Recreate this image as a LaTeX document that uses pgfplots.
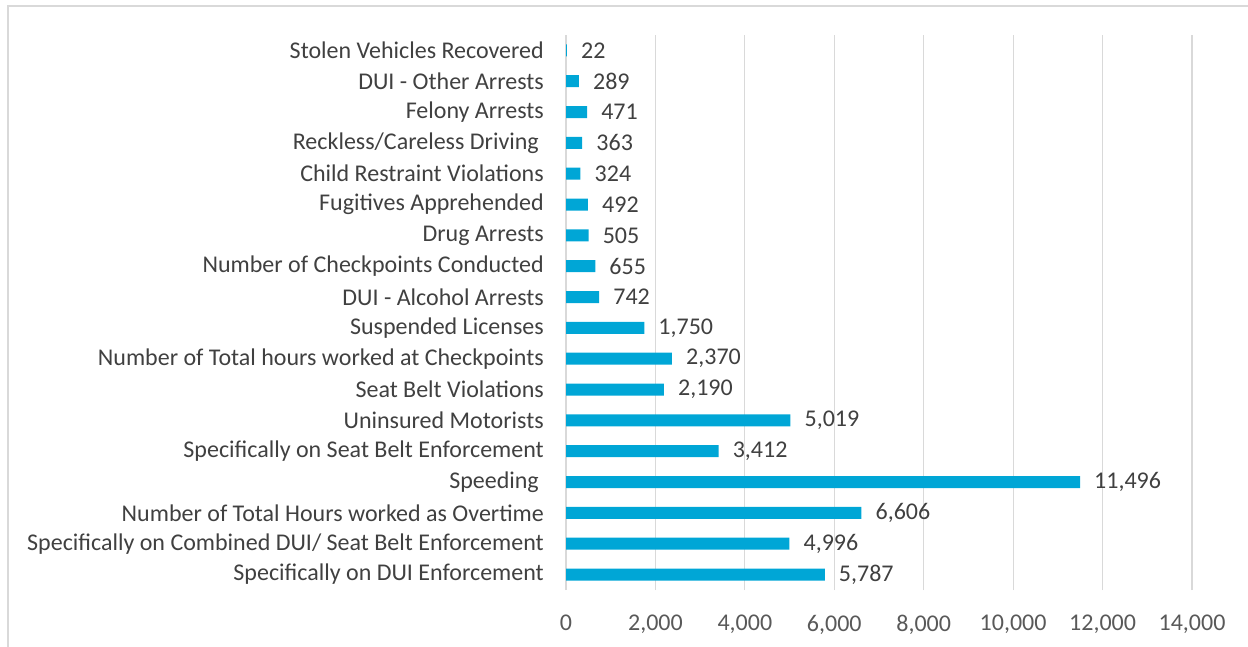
\documentclass[border=0pt]{standalone}
\usepackage{pgfplots}
\pgfplotsset{compat=1.18}
\usepackage{fontspec}
\setmainfont{Carlito}
\definecolor{barblue}{RGB}{0,166,214}
\definecolor{gridgray}{RGB}{217,217,217}
\definecolor{labgray}{RGB}{64,64,64}
\definecolor{tickgray}{RGB}{89,89,89}
\begin{document}
\fontsize{24bp}{28bp}\selectfont
\begin{tikzpicture}
\useasboundingbox (0bp,0bp) rectangle (1248bp,647bp);
\draw[gridgray,line width=1.5bp] (8bp,0bp) -- (8bp,641bp) -- (1248bp,641bp);
\begin{axis}[
  at={(566bp,57bp)}, anchor=south west,
  scale only axis, width=626bp, height=555bp,
  xbar, bar width=12bp,
  xmin=0, xmax=14000, ymin=-0.5, ymax=17.5,
  xtick={0,2000,...,14000},
  ytick={0,...,17},
  yticklabels={Specifically on DUI Enforcement,
    Specifically on Combined DUI/ Seat Belt Enforcement,
    Number of Total Hours worked as Overtime,
    Speeding\hspace*{5bp},
    Specifically on Seat Belt Enforcement,
    Uninsured Motorists,
    Seat Belt Violations,
    Number of Total hours worked at Checkpoints,
    Suspended Licenses,
    DUI - Alcohol Arrests,
    Number of Checkpoints Conducted,
    Drug Arrests,
    Fugitives Apprehended,
    Child Restraint Violations,
    Reckless/Careless Driving\hspace*{5bp},
    Felony Arrests,
    DUI - Other Arrests,
    Stolen Vehicles Recovered},
  axis line style={draw=none},
  major tick length=0pt,
  xmajorgrids, grid style={gridgray, line width=1.2bp},
  /pgf/number format/assume math mode=true,
  scaled x ticks=false,
  xticklabel style={text=tickgray, yshift=-17bp, /pgf/number format/1000 sep={,}},
  yticklabel style={text=labgray, xshift=-14bp},
  nodes near coords,
  nodes near coords style={text=labgray, xshift=6bp, /pgf/number format/1000 sep={,}},
  point meta=x,
  clip=false,
]
\addplot[fill=barblue, draw=none] coordinates {
(5787,0) (4996,1) (6606,2) (11496,3) (3412,4) (5019,5) (2190,6) (2370,7) (1750,8)
(742,9) (655,10) (505,11) (492,12) (324,13) (363,14) (471,15) (289,16) (22,17)};
\end{axis}
\end{tikzpicture}
\end{document}
